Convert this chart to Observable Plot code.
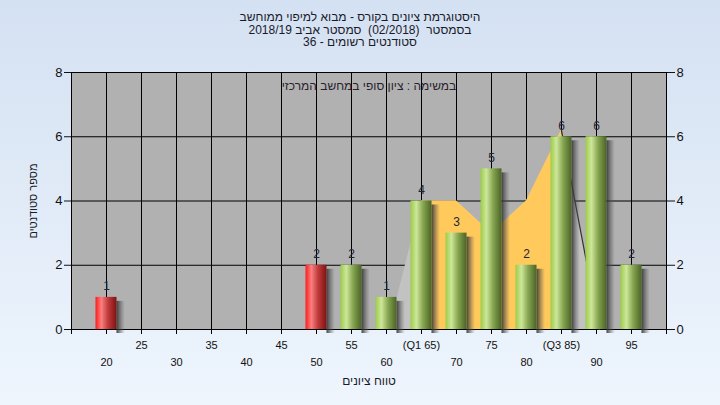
<!DOCTYPE html>
<html><head><meta charset="utf-8">
<script src="https://cdn.jsdelivr.net/npm/d3@7"></script>
<script src="https://cdn.jsdelivr.net/npm/@observablehq/plot@0.6"></script>
<style>
html,body{margin:0;padding:0;}
body{width:720px;height:405px;overflow:hidden;background:linear-gradient(#d4e1f2,#eef5fd);font-family:"Liberation Sans",Arial,sans-serif;}
#title{height:50px;box-sizing:border-box;padding-top:11px;text-align:center;font-size:12px;line-height:12.5px;color:#1a1a2a;}
#chart svg{display:block;}
</style></head><body>
<div id="title" dir="rtl">
<div>היסטוגרמת ציונים בקורס - מבוא למיפוי ממוחשב</div>
<div>בסמסטר&nbsp; (02/2018)&nbsp; סמסטר אביב 2018/19</div>
<div>סטודנטים רשומים - 36</div>
</div>
<div id="chart"></div>
<script>
// ---- data ----
const grades = [20, 25, 30, 35, 40, 45, 50, 55, 60, 65, 70, 75, 80, 85, 90, 95];
const counts = [1, 0, 0, 0, 0, 0, 2, 2, 1, 4, 3, 5, 2, 6, 6, 2];
const passGrade = 55;
const topTicks = [25, 35, 45, 55, 65, 75, 85, 95];
const topTickLabels = ["25", "35", "45", "55", "(Q1 65)", "75", "(Q3 85)", "95"];
const bottomTicks = [20, 30, 40, 50, 60, 70, 80, 90];
const bottomTickLabels = ["20", "30", "40", "50", "60", "70", "80", "90"];
const yTicks = [0, 2, 4, 6, 8];
// background distribution shape (grey) and inter-quartile part (orange)
const distX = [60.4, 65, 70, 75, 80, 85, 90.4];
const distY = [0, 4, 4, 3, 4, 6.2, 0];
const iqrX = [65, 70, 75, 80, 85];
const iqrY = [4, 4, 3, 4, 6.2];
const tailX = [85, 90.4];
const tailY = [6.2, 0];
const innerTitle = "במשימה : ציון סופי במחשב המרכזי";
const yTitle = "מספר סטודנטים";
const xTitle = "טווח ציונים";

// ---- tables ----
const bars = grades.map((g, i) => ({grade: g, count: counts[i]})).filter(d => d.count > 0);
const failBars = bars.filter(d => d.grade < passGrade);
const passBars = bars.filter(d => d.grade >= passGrade);
const dist = distX.map((x, i) => ({x, y: distY[i]}));
const iqr = iqrX.map((x, i) => ({x, y: iqrY[i]}));
const tail = tailX.map((x, i) => ({x, y: tailY[i]}));
const gridXs = d3.range(15, 101, 5);
const topMap = new Map(topTicks.map((t, i) => [t, topTickLabels[i]]));
const botMap = new Map(bottomTicks.map((t, i) => [t, bottomTickLabels[i]]));

const chart = Plot.plot({
  width: 720, height: 355,
  marginTop: 22, marginBottom: 76, marginLeft: 71, marginRight: 54,
  x: {domain: [15, 100], axis: null},
  y: {domain: [0, 8], axis: null},
  style: {background: "transparent", fontFamily: "Liberation Sans, Arial, sans-serif", color: "#111", overflow: "visible"},
  marks: [
    Plot.frame({fill: "#b1b1b1"}),
    Plot.ruleX(gridXs, {stroke: "#000", strokeWidth: 1}),
    Plot.ruleY(yTicks, {stroke: "#000", strokeWidth: 1}),
    Plot.areaY(dist, {x: "x", y: "y", fill: "#c2c2c2"}),
    Plot.areaY(iqr, {x: "x", y: "y", fill: "#ffc95b"}),
    Plot.line(tail, {x: "x", y: "y", stroke: "#333", strokeWidth: 1.2}),
    Plot.rectY(bars, {x1: d => d.grade + 1.5, x2: d => d.grade + 2.7, y1: 0, y2: "count", dy: 4, fill: "url(#gShadow)"}),
    Plot.rectY(failBars, {x1: d => d.grade - 1.5, x2: d => d.grade + 1.5, y1: 0, y2: "count", fill: "url(#gRed)"}),
    Plot.rectY(passBars, {x1: d => d.grade - 1.5, x2: d => d.grade + 1.5, y1: 0, y2: "count", fill: "url(#gGreen)"}),
    Plot.text(bars, {x: "grade", y: "count", text: d => String(d.count), dy: -11, fontSize: 12, fill: "#1e2638"}),
    Plot.axisX({ticks: gridXs, tickSize: 5, tickFormat: () => "", stroke: "#000", label: null}),
    Plot.axisX({ticks: topTicks, tickSize: 0, tickPadding: 12, tickFormat: d => topMap.get(d), fontSize: 11, label: null}),
    Plot.axisX({ticks: bottomTicks, tickSize: 0, tickPadding: 29, tickFormat: d => botMap.get(d), fontSize: 11, label: null}),
    Plot.axisY({anchor: "left", ticks: yTicks, tickSize: 7, tickPadding: 2, fontSize: 13, label: null}),
    Plot.axisY({anchor: "right", ticks: yTicks, tickSize: 8, tickPadding: 2, fontSize: 13, label: null}),
    Plot.text([innerTitle], {frameAnchor: "top", dy: 14, lineAnchor: "middle", textAnchor: "middle", fontSize: 12, fill: "#2a1f2f"}),
    Plot.text([yTitle], {frameAnchor: "left", dx: -38, rotate: -90, lineAnchor: "middle", textAnchor: "middle", fontSize: 11, fill: "#1a1a2a"}),
    Plot.text([xTitle], {frameAnchor: "bottom", dy: 52, lineAnchor: "middle", textAnchor: "middle", fontSize: 12, fill: "#1a1a2a"})
  ]
});

d3.select(chart).insert("defs", ":first-child").html(`
  <linearGradient id="gGreen" x1="0" x2="1" y1="0" y2="0">
    <stop offset="0" stop-color="#9ccc48"/>
    <stop offset="0.28" stop-color="#cde79a"/>
    <stop offset="0.6" stop-color="#86a550"/>
    <stop offset="1" stop-color="#4a6426"/>
  </linearGradient>
  <linearGradient id="gRed" x1="0" x2="1" y1="0" y2="0">
    <stop offset="0" stop-color="#ff1c1c"/>
    <stop offset="0.28" stop-color="#f98080"/>
    <stop offset="0.6" stop-color="#c03a3a"/>
    <stop offset="1" stop-color="#7e1212"/>
  </linearGradient>
  <linearGradient id="gShadow" x1="0" x2="1" y1="0" y2="0">
    <stop offset="0" stop-color="#303030" stop-opacity="0.9"/>
    <stop offset="1" stop-color="#606060" stop-opacity="0"/>
  </linearGradient>`);

document.getElementById("chart").appendChild(chart);
</script>
</body></html>
